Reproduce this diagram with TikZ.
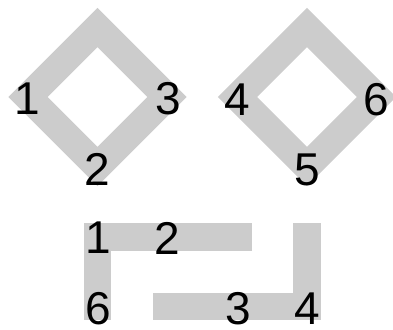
\documentclass[tikz,border=0pt]{standalone}
\usepackage{fontspec}
\setmainfont{Liberation Sans}
\definecolor{shapegray}{RGB}{204,204,204}
\tikzset{
  band/.style={draw=shapegray, line width=27.6pt, line cap=butt, line join=miter},
  num/.style={inner sep=0pt, font=\fontsize{46}{46}\selectfont, text=black}
}
\begin{document}
\begin{tikzpicture}[x=1pt,y=-1pt]
\useasboundingbox (0,0) rectangle (393,329);
% diamonds
\draw[band] (97.5,27.5) -- (167,97) -- (97.5,166.5) -- (28,97) -- cycle;
\draw[band] (307,27.5) -- (376.5,97) -- (307,166.5) -- (237.5,97) -- cycle;
% bottom shapes
\draw[band] (252,237) -- (97.5,237) -- (97.5,320);
\draw[band] (153,306.5) -- (307,306.5) -- (307,223);
% labels
\node[num] (a1) at (27,98.5) {1};
\node[num] (a3) at (168,98.5) {3};
\node[num] (a2) at (97.5,169) {2};
\node[num] (b4) at (237,100) {4};
\node[num] (b6) at (376,100) {6};
\node[num] (b5) at (307,170) {5};
\node[num] (c1) at (98,238) {1};
\node[num] (c2) at (167,238) {2};
\node[num] (c6) at (98.5,309) {6};
\node[num] (c3) at (238.5,309) {3};
\node[num] (c4) at (307,309) {4};
\end{tikzpicture}
\end{document}
